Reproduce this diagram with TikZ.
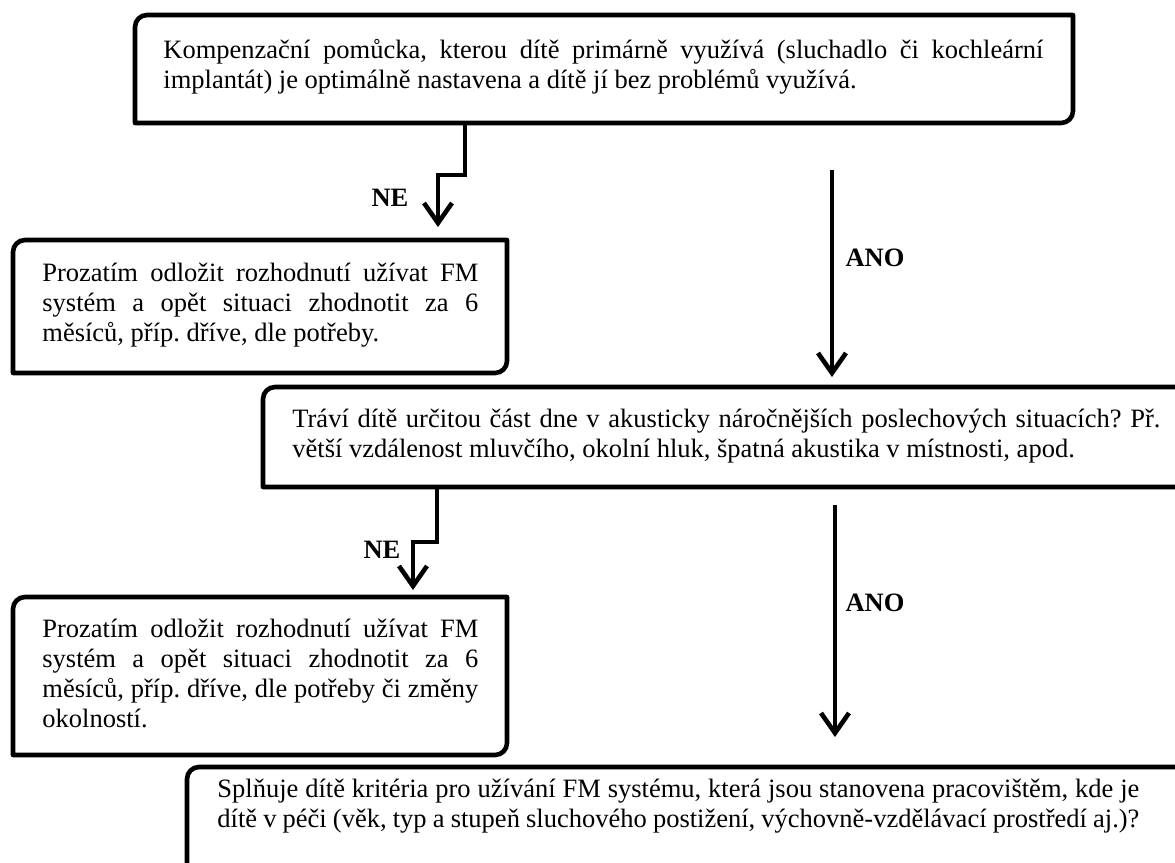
\documentclass[tikz,border=0pt]{standalone}
\usepackage{fontspec}
\setmainfont{Liberation Serif}
\usetikzlibrary{arrows.meta}
\newcommand\dgbox[4]{\draw[boxline] (#1,{-(#4)}) -- (#1,{-(#2)-12}) arc[start angle=180,end angle=90,radius=12] -- (#3,{-(#2)}) -- (#3,{-(#4)+12}) arc[start angle=0,end angle=-90,radius=12] -- cycle;}
\begin{document}
\begin{tikzpicture}[x=0.5pt,y=0.5pt,
  boxline/.style={line width=2.3pt, line join=round},
  conn/.style={line width=2.3pt, -{Straight Barb[length=10pt,width=14pt]}},
  txt/.style={inner sep=0pt, align=justify, anchor=west,
    font=\fontsize{13.25pt}{15pt}\selectfont,
    execute at begin node={\frenchspacing\tolerance=10000\hyphenpenalty=10000\exhyphenpenalty=10000}},
  lbl/.style={inner sep=0pt, font=\fontsize{13.25pt}{15pt}\selectfont\bfseries}]
\useasboundingbox (0,0) rectangle (1175,-863);
\clip (0,0) rectangle (1175,-863);
% boxes
\dgbox{135}{15}{1073}{123}
\dgbox{13}{240}{507}{373}
\dgbox{263}{387}{1189}{487}
\dgbox{13}{597}{507}{755}
\dgbox{187}{767}{1189}{885}
% texts
\node[txt, text width=440pt] (b1) at (163,-67) {Kompenzační pomůcka, kterou dítě primárně využívá (sluchadlo či kochleární\linebreak implantát) je optimálně nastavena a dítě jí bez problémů využívá.};
\node[txt, text width=218pt] (b2) at (42,-305) {Prozatím odložit rozhodnutí užívat FM\linebreak systém a opět situaci zhodnotit za 6\linebreak měsíců, příp. dříve, dle potřeby.};
\node[txt, text width=434pt] (b3) at (292,-436) {Tráví dítě určitou část dne v akusticky náročnějších poslechových situacích? Př.\linebreak větší vzdálenost mluvčího, okolní hluk, špatná akustika v místnosti, apod.};
\node[txt, text width=218pt] (b4) at (42,-673) {Prozatím odložit rozhodnutí užívat FM\linebreak systém a opět situaci zhodnotit za 6\linebreak měsíců, příp. dříve, dle potřeby či změny\linebreak okolností.};
\node[txt, text width=461pt] (b5) at (217,-806) {Splňuje dítě kritéria pro užívání FM systému, která jsou stanovena pracovištěm, kde je\linebreak dítě v péči (věk, typ a stupeň sluchového postižení, výchovně-vzdělávací prostředí aj.)?};
% connector points
\coordinate (ne1s) at (465,-123);
\coordinate (ne1j) at (438,-175);
\coordinate (ne1e) at (438,-227);
\coordinate (ano1s) at (832,-170);
\coordinate (ano1e) at (832,-377);
\coordinate (ne2s) at (437,-487);
\coordinate (ne2j) at (413,-542);
\coordinate (ne2e) at (413,-590);
\coordinate (ano2s) at (835,-505);
\coordinate (ano2e) at (835,-737);
% connectors
\draw[conn] (ne1s) |- (ne1j) -- (ne1e);
\draw[conn] (ano1s) -- (ano1e);
\draw[conn] (ne2s) |- (ne2j) -- (ne2e);
\draw[conn] (ano2s) -- (ano2e);
% labels
\node[lbl] (lne1) at (390,-198) {NE};
\node[lbl] (lano1) at (875,-258) {ANO};
\node[lbl] (lne2) at (382,-550) {NE};
\node[lbl] (lano2) at (875,-603) {ANO};
\end{tikzpicture}
\end{document}
